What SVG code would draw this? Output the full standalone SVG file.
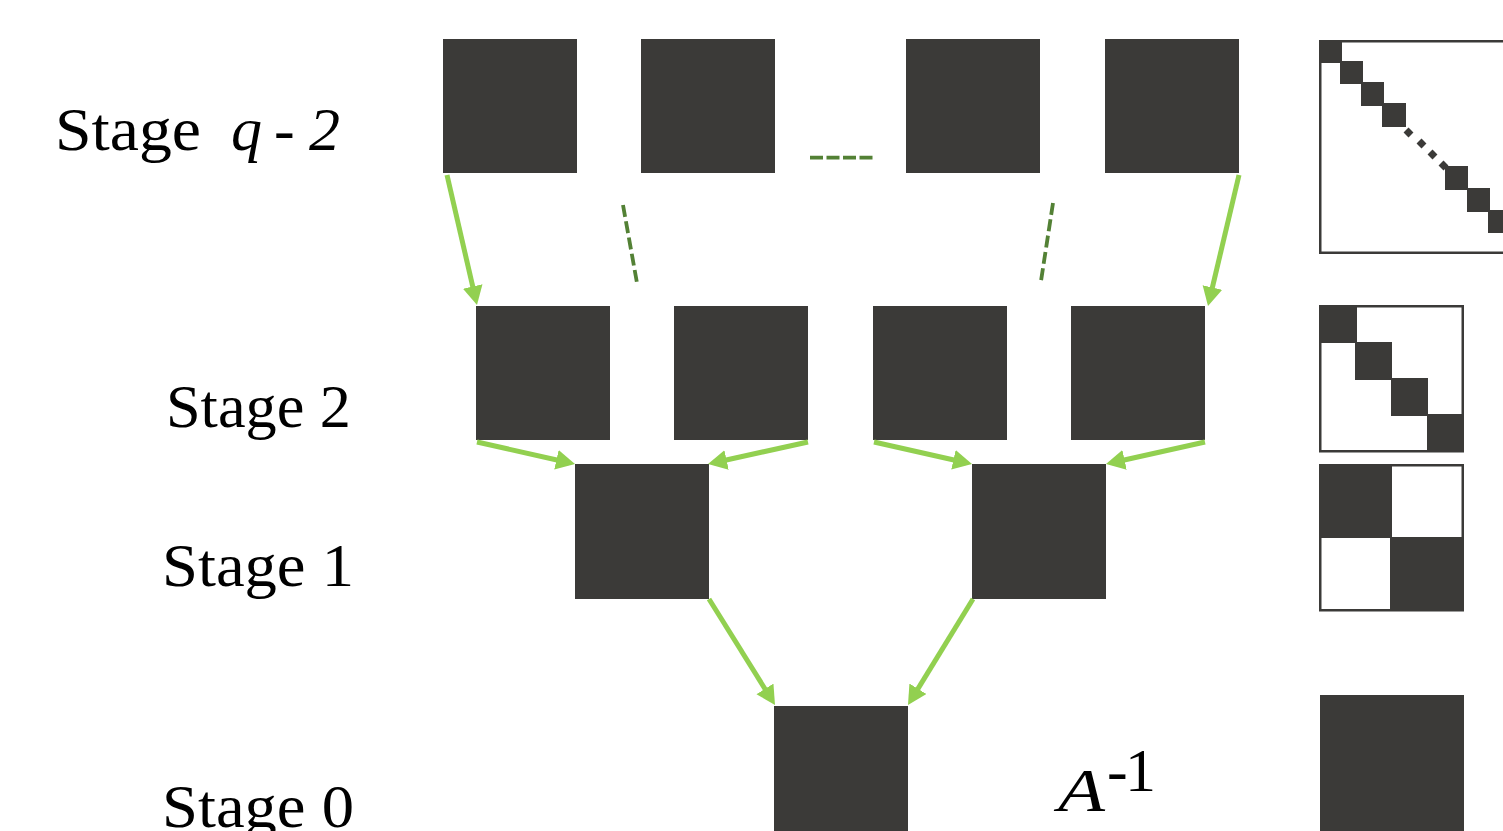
<svg xmlns="http://www.w3.org/2000/svg" width="1503" height="831" viewBox="0 0 1503 831">
<style>
.blk{fill:#3b3a38}
.mat{fill:#ffffff;stroke:#3b3a38;stroke-width:2.5}
.arr{stroke:#92d050;stroke-width:5;fill:none;marker-end:url(#ah)}
.dash{stroke:#538135;stroke-width:3.8;fill:none;stroke-dasharray:12 4.5}
.lbl{font-family:"Liberation Serif","DejaVu Serif",serif;font-size:62px;fill:#000000}
</style>
<defs>
<marker id="ah" markerUnits="userSpaceOnUse" markerWidth="22" markerHeight="22" refX="13" refY="10" orient="auto">
<path d="M0,0 L19,10 L0,20 Z" fill="#92d050"/>
</marker>
</defs>
<rect width="1503" height="831" fill="#ffffff"/>

<g id="labels">
<text class="lbl" y="150"><tspan x="55" textLength="146" lengthAdjust="spacingAndGlyphs">Stage</tspan><tspan x="231" font-style="italic">q</tspan><tspan x="274">-</tspan><tspan x="309" font-style="italic">2</tspan></text>
<text class="lbl" x="166" y="427" textLength="185" lengthAdjust="spacingAndGlyphs">Stage 2</text>
<text class="lbl" x="162" y="586" textLength="192" lengthAdjust="spacingAndGlyphs">Stage 1</text>
<text class="lbl" x="162" y="827" textLength="192" lengthAdjust="spacingAndGlyphs">Stage 0</text>
<text class="lbl" x="1058" y="811" font-size="78" font-style="italic" textLength="47" lengthAdjust="spacingAndGlyphs">A</text>
<text class="lbl" y="791" font-size="45"><tspan x="1107">-</tspan><tspan x="1125">1</tspan></text>
</g>

<g id="stage-q2">
<rect class="blk" x="443" y="39" width="134" height="134"/>
<rect class="blk" x="641" y="39" width="134" height="134"/>
<rect class="blk" x="906" y="39" width="134" height="134"/>
<rect class="blk" x="1105" y="39" width="134" height="134"/>
</g>
<g id="stage-2">
<rect class="blk" x="476" y="306" width="134" height="134"/>
<rect class="blk" x="674" y="306" width="134" height="134"/>
<rect class="blk" x="873" y="306" width="134" height="134"/>
<rect class="blk" x="1071" y="306" width="134" height="134"/>
</g>
<g id="stage-1">
<rect class="blk" x="575" y="464" width="134" height="135"/>
<rect class="blk" x="972" y="464" width="134" height="135"/>
</g>
<g id="stage-0">
<rect class="blk" x="774" y="706" width="134" height="130"/>
</g>

<g id="matrix-q2">
<rect class="mat" x="1320.25" y="41.25" width="200" height="211.5"/>
<rect class="blk" x="1319" y="40" width="23" height="23"/>
<rect class="blk" x="1340" y="61" width="23" height="23"/>
<rect class="blk" x="1361" y="82" width="23" height="24"/>
<rect class="blk" x="1382" y="103" width="24" height="24"/>
<rect class="blk" x="1405" y="129" width="7" height="7" transform="rotate(45 1408.5 132.5)"/>
<rect class="blk" x="1418" y="140" width="7" height="7" transform="rotate(45 1421.5 143.5)"/>
<rect class="blk" x="1429" y="151" width="7" height="7" transform="rotate(45 1432.5 154.5)"/>
<rect class="blk" x="1440" y="162" width="7" height="7" transform="rotate(45 1443.5 165.5)"/>
<rect class="blk" x="1445" y="166" width="23" height="24"/>
<rect class="blk" x="1467" y="188" width="23" height="24"/>
<rect class="blk" x="1488" y="210" width="23" height="23"/>
</g>
<g id="matrix-2">
<rect class="mat" x="1320.25" y="306.25" width="142.5" height="145"/>
<rect class="blk" x="1319" y="305" width="38" height="38"/>
<rect class="blk" x="1355" y="342" width="37" height="38"/>
<rect class="blk" x="1391" y="378" width="37" height="38"/>
<rect class="blk" x="1427" y="414" width="37" height="38"/>
</g>
<g id="matrix-1">
<rect class="mat" x="1320.25" y="465.25" width="142.5" height="145"/>
<rect class="blk" x="1319" y="464" width="73" height="74"/>
<rect class="blk" x="1390" y="537" width="74" height="74"/>
</g>
<g id="matrix-0">
<rect class="blk" x="1320" y="695" width="144" height="140"/>
</g>

<g id="connectors">
<line class="arr" x1="447" y1="175" x2="475.65" y2="299.15"/>
<line class="arr" x1="1239" y1="175" x2="1209.38" y2="300.16"/>
<line class="arr" x1="477" y1="442" x2="569.14" y2="462.69"/>
<line class="arr" x1="808" y1="442" x2="713.86" y2="462.71"/>
<line class="arr" x1="874" y1="442" x2="966.14" y2="462.69"/>
<line class="arr" x1="1205" y1="442" x2="1111.86" y2="462.70"/>
<line class="arr" x1="709" y1="599" x2="771.83" y2="699.91"/>
<line class="arr" x1="973" y1="599" x2="911.14" y2="699.88"/>
<line class="dash" x1="810" y1="157.7" x2="873" y2="157.7" style="stroke-dasharray:13 3.5"/>
<line class="dash" x1="623" y1="205" x2="637" y2="283"/>
<line class="dash" x1="1053" y1="203" x2="1041" y2="281"/>
</g>
</svg>
